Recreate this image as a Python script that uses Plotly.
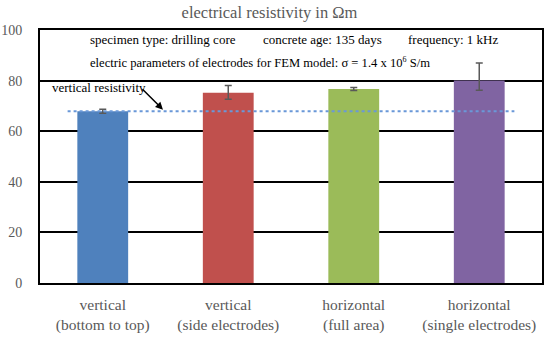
import plotly.graph_objects as go

categories = ["vertical<br>(bottom to top)", "vertical<br>(side electrodes)",
              "horizontal<br>(full area)", "horizontal<br>(single electrodes)"]
resistivity = [67.9, 75.2, 76.7, 80.0]
err_plus = [0.8, 2.9, 0.6, 7.0]
err_minus = [0.8, 2.6, 0.6, 3.8]
bar_colors = ["#4F81BD", "#C0504D", "#9BBB59", "#8064A2"]
vertical_resistivity = 67.9
y_ticks = [0, 20, 40, 60, 80, 100]

FONT = "Liberation Serif"
GRAY = "#595959"

fig = go.Figure()
fig.add_trace(go.Bar(
    x=list(range(len(categories))), y=resistivity, width=0.405,
    marker=dict(color=bar_colors, line=dict(width=0)),
    error_y=dict(type="data", symmetric=False, array=err_plus, arrayminus=err_minus,
                 color=GRAY, thickness=1.5, width=3.5),
    showlegend=False, hoverinfo="skip"))

fig.add_trace(go.Scatter(
    x=[-0.28, 3.28], y=[vertical_resistivity] * 2, mode="lines",
    line=dict(color="#6A98D8", width=2, dash="dot"),
    showlegend=False, hoverinfo="skip"))

fig.update_layout(
    width=550, height=337,
    margin=dict(l=40, r=8, t=30, b=54, autoexpand=False),
    paper_bgcolor="white", plot_bgcolor="white",
    title=dict(text="electrical resistivity in Ωm", x=0.49, xanchor="center",
               y=1 - 12 / 337, yanchor="middle", automargin=False,
               font=dict(family=FONT, size=16.5, color=GRAY)),
    xaxis=dict(range=[-0.5, 3.5], tickmode="array", tickvals=list(range(4)),
               ticktext=categories, showgrid=False, zeroline=False, automargin=False,
               showline=True, linecolor="black", linewidth=2, mirror=True,
               ticks="", ticklabelstandoff=6,
               tickfont=dict(family=FONT, size=15.5, color=GRAY)),
    yaxis=dict(range=[0, 100], tickvals=y_ticks, showgrid=True, automargin=False,
               gridcolor="black", gridwidth=1.5, zeroline=False,
               showline=True, linecolor="black", linewidth=2, mirror=True,
               ticks="", ticklabelstandoff=13,
               tickfont=dict(family=FONT, size=14, color=GRAY)),
)

ann_font = dict(family=FONT, size=13, color="black")
for txt, px in [("specimen type: drilling core", 88),
                ("concrete age: 135 days", 261),
                ("frequency: 1 kHz", 406)]:
    fig.add_annotation(text=txt, xref="paper", yref="y", x=(px - 40) / 502, y=96.2,
                       xanchor="left", yanchor="middle", showarrow=False, font=ann_font)
fig.add_annotation(text="electric parameters of electrodes for FEM model: σ = 1.4 x 10<sup><span style='font-size:8px'>6</span></sup> S/m",
                   xref="paper", yref="y", x=(88 - 40) / 502, y=87.2,
                   xanchor="left", yanchor="middle", showarrow=False,
                   font=dict(family=FONT, size=12.6, color="black"))

fig.add_annotation(text="vertical resistivity", xref="paper", yref="y",
                   x=(50 - 40) / 502, y=77.2, xanchor="left", yanchor="middle",
                   showarrow=False, font=dict(family=FONT, size=13, color="black"))
fig.add_annotation(text="", x=0.48, y=vertical_resistivity + 0.6, xref="x", yref="y",
                   ax=-22, ay=-22, showarrow=True, arrowhead=2, arrowsize=1,
                   arrowwidth=1.5, arrowcolor="black")

fig.write_html("out.html", config={"displayModeBar": False},
               post_script="document.body.style.margin='0';document.body.style.padding='0';")
